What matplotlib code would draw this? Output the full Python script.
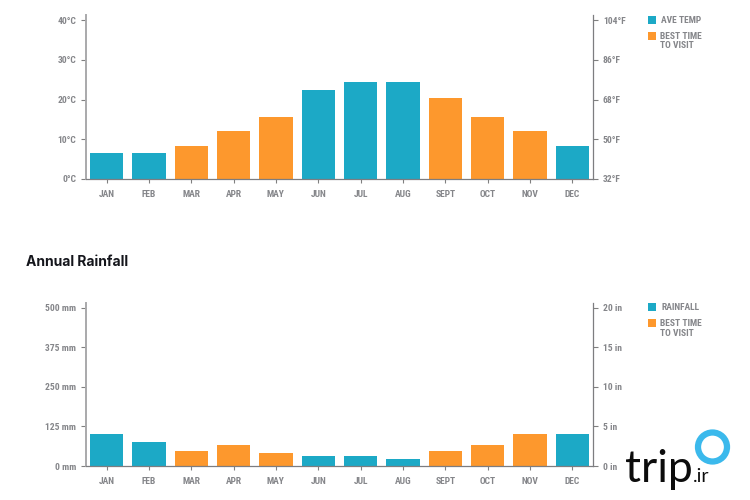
import matplotlib
matplotlib.use('Agg')
import matplotlib.pyplot as plt
import matplotlib.font_manager as fm
from matplotlib.patches import Rectangle, Circle

months = ['JAN', 'FEB', 'MAR', 'APR', 'MAY', 'JUN', 'JUL', 'AUG', 'SEPT', 'OCT', 'NOV', 'DEC']
best_time = [False, False, True, True, True, False, False, False, True, True, True, False]

temp_c = [6.5, 6.5, 8.2, 12, 15.6, 22.3, 24.4, 24.4, 20.5, 15.6, 12, 8.2]
temp_ticks = [0, 10, 20, 30, 40]
temp_left = ['0°C', '10°C', '20°C', '30°C', '40°C']
temp_right = ['32°F', '50°F', '68°F', '86°F', '104°F']

rain_mm = [101, 77, 46, 65, 41, 33, 33, 23, 46, 65, 102, 102]
rain_ticks = [0, 125, 250, 375, 500]
rain_left = ['0 mm', '125 mm', '250 mm', '375 mm', '500 mm']
rain_right = ['0 in', '5 in', '10 in', '15 in', '20 in']

BLUE = '#1ca9c6'
ORANGE = '#fd982d'
TEXT = '#85868a'
W, H = 750, 500

# narrow font if we have it, the site uses a condensed grotesque
names = {f.name for f in fm.fontManager.ttflist}
NARROW = 'Roboto'
for candidate in ['Liberation Sans Narrow', 'Roboto Condensed', 'Open Sans Condensed']:
    if candidate in names:
        NARROW = candidate
        break
LABEL = dict(fontsize=6.8, color=TEXT, family=NARROW, fontweight='bold')

fig = plt.figure(figsize=(W / 100, H / 100), dpi=100, facecolor='white')


def px_axes(left, top, right, bottom):
    return fig.add_axes([left / W, 1 - bottom / H, (right - left) / W, (bottom - top) / H])


def bar_panel(top, bottom, values, ticks, left_labels, right_labels, ymax):
    ax = px_axes(86, top, 593, bottom)
    colors = [ORANGE if b else BLUE for b in best_time]
    ax.bar(range(12), values, width=0.785, color=colors, linewidth=0)
    ax.set_xlim(-0.486, 11.49)
    ax.set_ylim(0, ymax)
    ax.set_xticks(range(12))
    ax.set_xticklabels(months, **LABEL)
    ax.set_yticks(ticks)
    ax.set_yticklabels(left_labels, **LABEL)
    ax.tick_params(axis='x', length=3, width=0.8, color='#808080', pad=5)
    ax.tick_params(axis='y', length=3.6, width=0.8, color='#808080', pad=3.5)

    ax2 = ax.twinx()
    ax2.set_ylim(0, ymax)
    ax2.set_yticks(ticks)
    ax2.set_yticklabels(right_labels, **LABEL)
    ax2.tick_params(axis='y', length=3.6, width=0.8, color='#808080', pad=3.5)

    for a in (ax, ax2):
        a.spines['top'].set_visible(False)
    ax2.spines['left'].set_visible(False)
    ax2.spines['bottom'].set_visible(False)
    ax.spines['right'].set_visible(False)
    ax.spines['left'].set_color('#a9a9ab')
    ax.spines['left'].set_linewidth(1.4)
    ax.spines['bottom'].set_color('#7d7d80')
    ax.spines['bottom'].set_linewidth(0.9)
    ax2.spines['right'].set_color('#7d7d80')
    ax2.spines['right'].set_linewidth(0.9)
    return ax


def legend_block(y0, first_label):
    for y, color in ((y0, BLUE), (y0 + 16, ORANGE)):
        fig.add_artist(Rectangle((648 / W, 1 - (y + 8) / H), 8 / W, 8 / H,
                                 transform=fig.transFigure, color=color, linewidth=0))
    style = dict(LABEL, va='center')
    fig.text(661 / W, 1 - (y0 + 4.5) / H, first_label, **style)
    fig.text(660 / W, 1 - (y0 + 20.5) / H, 'BEST TIME', **style)
    fig.text(660 / W, 1 - (y0 + 30) / H, 'TO VISIT', **style)


bar_panel(15, 179, temp_c, temp_ticks, temp_left, temp_right, 41.3)
bar_panel(302.5, 466, rain_mm, rain_ticks, rain_left, rain_right, 517)

legend_block(16, 'AVE TEMP')
legend_block(303, 'RAINFALL')

fig.text(26 / W, 1 - 262 / H, 'Annual Rainfall', fontsize=10, fontweight='bold',
         family='Inter', color='#15161c', va='center')

# trip.ir logo, bottom right
fig.text(625 / W, 1 - 482 / H, 'trip', fontsize=32, family='Lato', fontweight='normal',
         color='#0c0c0c', va='baseline')
fig.text(693 / W, 1 - 482 / H, '.ir', fontsize=14, family='Lato', fontweight='normal',
         color='#0c0c0c', va='baseline')
fig.add_artist(Circle((712.5, H - 447), 14.5, transform=None, facecolor='none',
                      edgecolor='#3bb9ec', linewidth=4.5))

fig.savefig('out.png', dpi=100, facecolor='white')
